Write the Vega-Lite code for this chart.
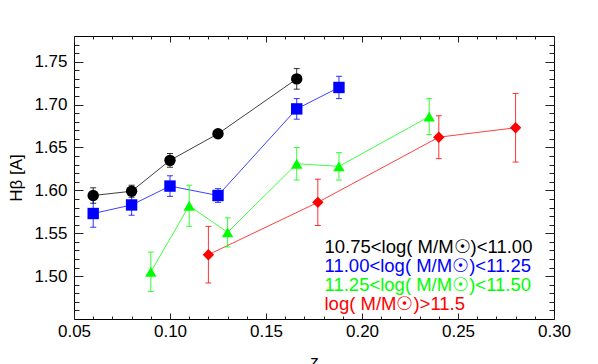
{
  "$schema": "https://vega.github.io/schema/vega-lite/v6.json",
  "width": 480,
  "height": 283,
  "autosize": {"type": "none"},
  "padding": {"left": 74, "top": 36, "right": 44, "bottom": 45},
  "config": {
    "font": "Liberation Sans",
    "view": {"stroke": "black", "strokeWidth": 1},
    "axis": {"domain": false, "grid": false, "tickColor": "#222", "tickWidth": 1, "labelColor": "black", "labelFontSize": 17, "titleFontSize": 17, "titleFontWeight": "normal", "titleColor": "black", "labelFlush": false, "labelOverlap": false},
    "legend": {"symbolOpacity": 0, "symbolStrokeWidth": 0, "symbolSize": 0}
  },
  "data": {"values": [
    {"grp": "10.75<log( M/M☉)<11.00", "z": 0.060, "hb": 1.594, "lo": 1.585, "hi": 1.603},
    {"grp": "10.75<log( M/M☉)<11.00", "z": 0.080, "hb": 1.599, "lo": 1.592, "hi": 1.606},
    {"grp": "10.75<log( M/M☉)<11.00", "z": 0.100, "hb": 1.635, "lo": 1.627, "hi": 1.643},
    {"grp": "10.75<log( M/M☉)<11.00", "z": 0.125, "hb": 1.666, "lo": 1.662, "hi": 1.670},
    {"grp": "10.75<log( M/M☉)<11.00", "z": 0.166, "hb": 1.730, "lo": 1.718, "hi": 1.742},
    {"grp": "11.00<log( M/M☉)<11.25", "z": 0.060, "hb": 1.573, "lo": 1.557, "hi": 1.589},
    {"grp": "11.00<log( M/M☉)<11.25", "z": 0.080, "hb": 1.583, "lo": 1.571, "hi": 1.595},
    {"grp": "11.00<log( M/M☉)<11.25", "z": 0.100, "hb": 1.605, "lo": 1.593, "hi": 1.617},
    {"grp": "11.00<log( M/M☉)<11.25", "z": 0.125, "hb": 1.594, "lo": 1.586, "hi": 1.602},
    {"grp": "11.00<log( M/M☉)<11.25", "z": 0.166, "hb": 1.695, "lo": 1.683, "hi": 1.707},
    {"grp": "11.00<log( M/M☉)<11.25", "z": 0.188, "hb": 1.720, "lo": 1.707, "hi": 1.733},
    {"grp": "11.25<log( M/M☉)<11.50", "z": 0.090, "hb": 1.505, "lo": 1.482, "hi": 1.528},
    {"grp": "11.25<log( M/M☉)<11.50", "z": 0.110, "hb": 1.582, "lo": 1.558, "hi": 1.606},
    {"grp": "11.25<log( M/M☉)<11.50", "z": 0.130, "hb": 1.551, "lo": 1.534, "hi": 1.568},
    {"grp": "11.25<log( M/M☉)<11.50", "z": 0.166, "hb": 1.631, "lo": 1.612, "hi": 1.650},
    {"grp": "11.25<log( M/M☉)<11.50", "z": 0.188, "hb": 1.628, "lo": 1.612, "hi": 1.644},
    {"grp": "11.25<log( M/M☉)<11.50", "z": 0.235, "hb": 1.686, "lo": 1.665, "hi": 1.707},
    {"grp": "\u00a0log( M/M☉)>11.5", "z": 0.120, "hb": 1.525, "lo": 1.492, "hi": 1.558},
    {"grp": "\u00a0log( M/M☉)>11.5", "z": 0.177, "hb": 1.586, "lo": 1.559, "hi": 1.613},
    {"grp": "\u00a0log( M/M☉)>11.5", "z": 0.240, "hb": 1.662, "lo": 1.637, "hi": 1.687},
    {"grp": "\u00a0log( M/M☉)>11.5", "z": 0.280, "hb": 1.673, "lo": 1.633, "hi": 1.713}
  ]},
  "layer": [
    {
      "mark": {"type": "line", "strokeWidth": 1, "opacity": 0.75},
      "encoding": {
        "x": {"field": "z", "type": "quantitative", "scale": {"domain": [0.05, 0.30], "nice": false, "zero": false},
              "axis": {"orient": "bottom", "values": [0.05, 0.10, 0.15, 0.20, 0.25, 0.30], "format": ".2f", "tickSize": -6, "labelPadding": 10, "title": "z", "titlePadding": 14}},
        "y": {"field": "hb", "type": "quantitative", "scale": {"domain": [1.45, 1.78], "nice": false, "zero": false},
              "axis": {"orient": "left", "values": [1.50, 1.55, 1.60, 1.65, 1.70, 1.75], "format": ".2f", "tickSize": -9, "labelPadding": 16, "title": "Hβ [A]", "titlePadding": 8}},
        "color": {"field": "grp", "type": "nominal",
                  "scale": {"domain": ["10.75<log( M/M☉)<11.00", "11.00<log( M/M☉)<11.25", "11.25<log( M/M☉)<11.50", "\u00a0log( M/M☉)>11.5"], "range": ["#000000", "#0000ff", "#00ff00", "#ff0000"]},
                  "legend": {"orient": "none", "legendX": 232, "legendY": 202, "title": null, "labelFontSize": 18.5, "labelLimit": 0, "labelOffset": 0, "rowPadding": 0, "padding": 0,
                             "labelColor": {"expr": "datum.value == '10.75<log( M/M☉)<11.00' ? '#000000' : datum.value == '11.00<log( M/M☉)<11.25' ? '#0000ff' : datum.value == '11.25<log( M/M☉)<11.50' ? '#00ff00' : '#ff0000'"}}}
      }
    },
    {
      "mark": {"type": "rule", "strokeWidth": 1, "opacity": 0.8},
      "encoding": {
        "x": {"field": "z", "type": "quantitative", "axis": {"orient": "top", "values": [0.05, 0.10, 0.15, 0.20, 0.25, 0.30], "labels": false, "tickSize": -6, "title": null}},
        "y": {"field": "lo", "type": "quantitative", "axis": {"orient": "right", "values": [1.50, 1.55, 1.60, 1.65, 1.70, 1.75], "labels": false, "tickSize": -9, "title": null}},
        "y2": {"field": "hi"},
        "color": {"field": "grp", "type": "nominal"}
      }
    },
    {
      "mark": {"type": "tick", "orient": "horizontal", "size": 6, "thickness": 1, "opacity": 0.8},
      "encoding": {
        "x": {"field": "z", "type": "quantitative", "axis": {"orient": "bottom", "values": [0.06, 0.07, 0.08, 0.09, 0.11, 0.12, 0.13, 0.14, 0.16, 0.17, 0.18, 0.19, 0.21, 0.22, 0.23, 0.24, 0.26, 0.27, 0.28, 0.29], "labels": false, "tickSize": -3, "title": null}},
        "y": {"field": "lo", "type": "quantitative", "axis": {"orient": "left", "values": [1.46, 1.47, 1.48, 1.49, 1.51, 1.52, 1.53, 1.54, 1.56, 1.57, 1.58, 1.59, 1.61, 1.62, 1.63, 1.64, 1.66, 1.67, 1.68, 1.69, 1.71, 1.72, 1.73, 1.74, 1.76, 1.77], "labels": false, "tickSize": -5, "title": null}},
        "color": {"field": "grp", "type": "nominal"}
      }
    },
    {
      "mark": {"type": "tick", "orient": "horizontal", "size": 6, "thickness": 1, "opacity": 0.8},
      "encoding": {
        "x": {"field": "z", "type": "quantitative", "axis": {"orient": "top", "values": [0.06, 0.07, 0.08, 0.09, 0.11, 0.12, 0.13, 0.14, 0.16, 0.17, 0.18, 0.19, 0.21, 0.22, 0.23, 0.24, 0.26, 0.27, 0.28, 0.29], "labels": false, "tickSize": -3, "title": null}},
        "y": {"field": "hi", "type": "quantitative", "axis": {"orient": "right", "values": [1.46, 1.47, 1.48, 1.49, 1.51, 1.52, 1.53, 1.54, 1.56, 1.57, 1.58, 1.59, 1.61, 1.62, 1.63, 1.64, 1.66, 1.67, 1.68, 1.69, 1.71, 1.72, 1.73, 1.74, 1.76, 1.77], "labels": false, "tickSize": -5, "title": null}},
        "color": {"field": "grp", "type": "nominal"}
      }
    },
    {
      "mark": {"type": "point", "filled": true, "opacity": 1},
      "encoding": {
        "x": {"field": "z", "type": "quantitative", "axis": null},
        "y": {"field": "hb", "type": "quantitative", "axis": null},
        "color": {"field": "grp", "type": "nominal"},
        "shape": {"field": "grp", "type": "nominal", "legend": null,
                  "scale": {"domain": ["10.75<log( M/M☉)<11.00", "11.00<log( M/M☉)<11.25", "11.25<log( M/M☉)<11.50", "\u00a0log( M/M☉)>11.5"], "range": ["circle", "square", "triangle-up", "diamond"]}},
        "size": {"field": "grp", "type": "nominal", "legend": null,
                 "scale": {"domain": ["10.75<log( M/M☉)<11.00", "11.00<log( M/M☉)<11.25", "11.25<log( M/M☉)<11.50", "\u00a0log( M/M☉)>11.5"], "range": [130, 130, 160, 110]}}
      }
    }
  ],
  "resolve": {"axis": {"x": "independent", "y": "independent"}}
}
